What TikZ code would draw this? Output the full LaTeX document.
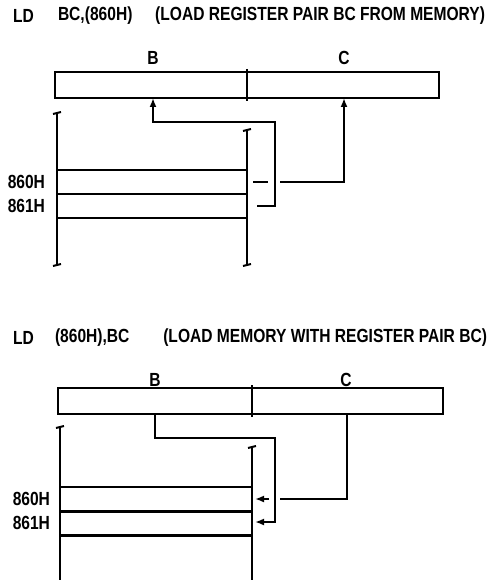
\documentclass[tikz,border=0pt]{standalone}
\usepackage{fontspec}
\setmainfont{Liberation Sans}[FakeStretch=0.82]
\usetikzlibrary{arrows.meta,calc}
\begin{document}
\begin{tikzpicture}[x=1pt,y=-1pt,
  every node/.style={inner sep=0pt,outer sep=0pt},
  txt/.style={font=\fontsize{19}{19}\selectfont\bfseries},
  reg/.style={draw,line width=2.5pt,rectangle,minimum height=26pt},
  cell/.style={draw,line width=2.5pt,rectangle,minimum width=190pt,minimum height=24pt},
  wall/.style={line width=2.5pt},
  wire/.style={line width=2pt},
  arr/.style={wire,-{Latex[length=9pt,width=7pt]}},
  tick/.style={line width=2pt}]
\useasboundingbox (0,0) rectangle (488,583);

% ---------- top ----------
\node[txt,anchor=west] (t1a) at (13,15.5) {LD};
\node[txt,anchor=west] (t1b) at (58,15.5) {BC,(860H)};
\node[txt,anchor=east] (t1c) at (485,15.5) {(LOAD REGISTER PAIR BC FROM MEMORY)};

\node[reg,minimum width=384pt] (regT) at (247,85) {};
\draw[wall] ($(regT.north)+(0,-3)$) -- ($(regT.south)+(0,3)$);
\node[txt] (lbT) at (153,58) {B};
\node[txt] (lcT) at (344,58) {C};

\coordinate (mTtl) at (57,113);
\coordinate (mTbl) at (57,265);
\coordinate (mTtr) at (247,130);
\coordinate (mTbr) at (247,265);
\draw[wall] (mTtl) -- (mTbl);
\draw[wall] (mTtr) -- (mTbr);
\foreach \p in {mTtl,mTbl,mTtr,mTbr}{\draw[tick] ($(\p)+(-4,1)$) -- ($(\p)+(4,-1)$);}
\node[cell] (mT1) at (152,182) {};
\node[cell] (mT2) at (152,206) {};
\node[txt,anchor=east] (aT1) at (45,182) {860H};
\node[txt,anchor=east] (aT2) at (45,206) {861H};

\coordinate (bT0) at (257,206);
\coordinate (bT1) at (275,206);
\coordinate (bT2) at (275,122);
\coordinate (bT3) at (153,122);
\draw[arr] (bT0) -- (bT1) -- (bT2) -- (bT3) -- (bT3 |- regT.south);
\coordinate (cT0) at (253,182);
\coordinate (cT1) at (268,182);
\coordinate (cT2) at (280,182);
\coordinate (cT3) at (344,182);
\draw[wire] (cT0) -- (cT1);
\draw[arr] (cT2) -- (cT3) -- (cT3 |- regT.south);

% ---------- bottom ----------
\node[txt,anchor=west] (t2a) at (13,337.5) {LD};
\node[txt,anchor=west] (t2b) at (55,337.5) {(860H),BC};
\node[txt,anchor=east] (t2c) at (487,337.5) {(LOAD MEMORY WITH REGISTER PAIR BC)};

\node[reg,minimum width=385pt] (regB) at (250.5,401) {};
\draw[wall] ($(regB.north)+(1.5,-3)$) -- ($(regB.south)+(1.5,3)$);
\node[txt] (lbB) at (155,380) {B};
\node[txt] (lcB) at (346,380) {C};

\coordinate (mBtl) at (60,427);
\coordinate (mBbl) at (60,580);
\coordinate (mBtr) at (252,447);
\coordinate (mBbr) at (252,580);
\draw[wall] (mBtl) -- (mBbl);
\draw[wall] (mBtr) -- (mBbr);
\foreach \p in {mBtl,mBtr}{\draw[tick] ($(\p)+(-4,1)$) -- ($(\p)+(4,-1)$);}
\node[cell,minimum width=192pt] (mB1) at (156,499) {};
\node[cell,minimum width=192pt] (mB2) at (156,523.5) {};
\node[txt,anchor=east] (aB1) at (50,499) {860H};
\node[txt,anchor=east] (aB2) at (50,523) {861H};

\coordinate (bB0) at (155,414);
\coordinate (bB1) at (155,438);
\coordinate (bB2) at (275,438);
\coordinate (bB3) at (275,522);
\coordinate (bB4) at (255,522);
\draw[arr] (regB.south -| bB0) -- (bB1) -- (bB2) -- (bB3) -- (bB4);
\coordinate (cB0) at (347,414);
\coordinate (cB1) at (347,499);
\coordinate (cB2) at (280,499);
\coordinate (cB3) at (269,499);
\coordinate (cB4) at (255,499);
\draw[wire] (regB.south -| cB0) -- (cB1) -- (cB2);
\draw[arr] (cB3) -- (cB4);
\end{tikzpicture}
\end{document}
